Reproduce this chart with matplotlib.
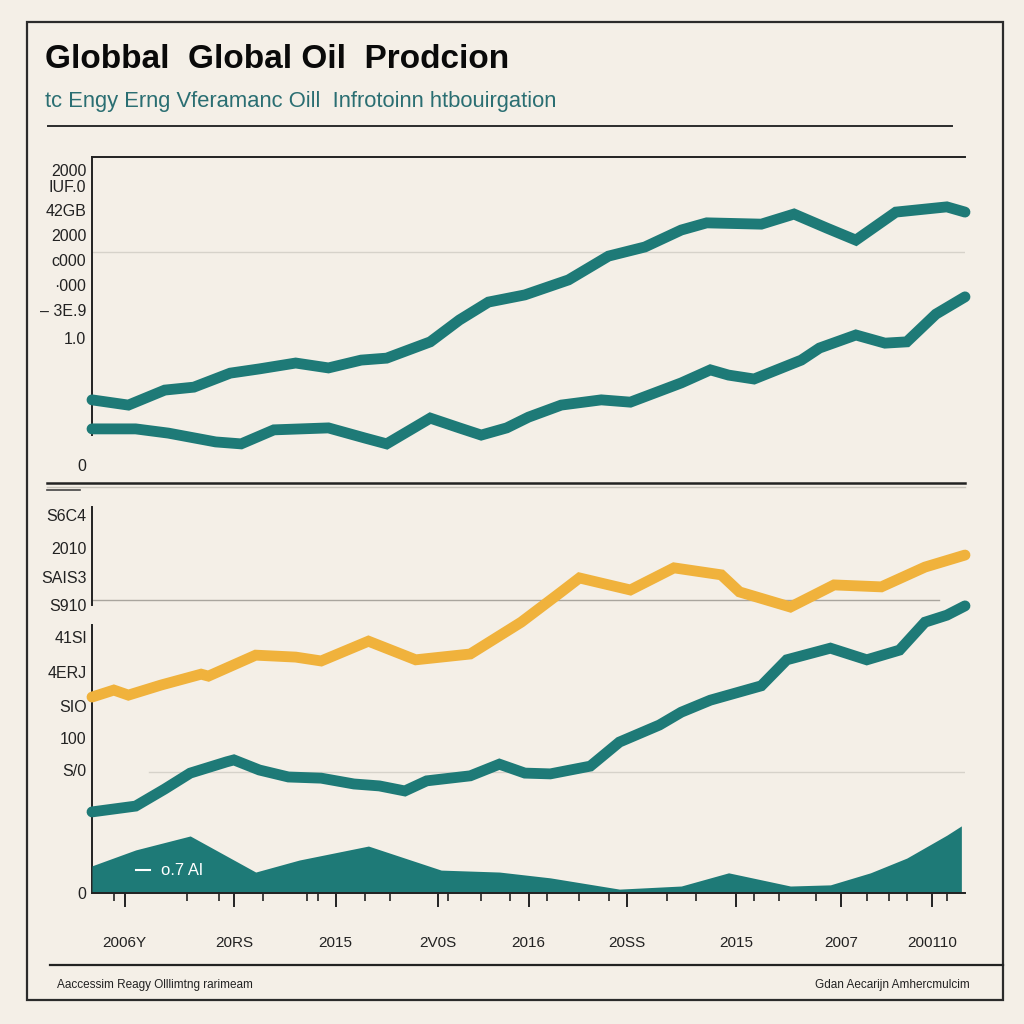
import matplotlib.pyplot as plt
from matplotlib.lines import Line2D
from matplotlib.patches import Rectangle

plt.rcParams['font.family'] = ['Liberation Sans', 'DejaVu Sans']

BG = "#f4efe7"
TEAL = "#1e7a77"
GOLD = "#f0b23c"

# ---- top panel data ----
top_hi_x = [2000.0, 2001.0, 2002.0, 2002.8, 2003.8, 2004.6, 2005.6, 2006.5, 2007.4, 2008.1,
            2009.3, 2010.1, 2010.9, 2011.9, 2013.1, 2014.2, 2015.2, 2016.2, 2016.9, 2018.4,
            2019.3, 2020.2, 2021.0, 2022.1, 2023.5, 2024.0]
top_hi_y = [25.5, 23.9, 28.5, 29.4, 33.7, 35.0, 36.8, 35.3, 37.7, 38.3,
            43.3, 50.0, 55.5, 57.7, 62.3, 69.6, 72.4, 77.6, 79.8, 79.4,
            82.5, 78.2, 74.5, 83.1, 84.7, 83.1]
top_lo_x = [2000.0, 2001.2, 2002.1, 2003.4, 2004.1, 2005.0, 2006.5, 2007.5, 2008.1, 2009.3,
            2010.1, 2010.7, 2011.4, 2012.0, 2012.9, 2014.0, 2014.8, 2016.2, 2017.0, 2017.5,
            2018.2, 2019.5, 2020.0, 2021.0, 2021.8, 2022.4, 2023.2, 2024.0]
top_lo_y = [16.6, 16.6, 15.3, 12.6, 12.0, 16.3, 16.9, 13.8, 12.0, 19.9,
            16.9, 14.7, 16.9, 20.2, 23.9, 25.5, 24.8, 30.7, 34.7, 33.1,
            31.9, 37.7, 41.4, 45.4, 42.9, 43.3, 51.8, 57.1]
top_ticks = [96.0, 91.1, 83.7, 76.1, 68.4, 60.7, 53.1, 44.5, 5.5]
top_labels = ["2000", "IUF.0", "42GB", "2000", "c000", "\u00b7000", "\u2013 3E.9", "1.0", "0"]

# ---- bottom panel data ----
gold_x = [2000.0, 2000.6, 2001.0, 2001.9, 2003.0, 2003.2, 2004.5, 2005.6, 2006.3, 2007.6,
          2008.9, 2010.4, 2011.8, 2012.9, 2013.4, 2014.8, 2016.0, 2017.3, 2017.8, 2019.2,
          2020.4, 2021.7, 2022.9, 2024.0]
gold_y = [50.5, 52.3, 51.0, 53.6, 56.4, 55.9, 61.3, 60.8, 59.8, 64.9,
          60.1, 61.6, 69.8, 77.6, 81.2, 78.1, 83.8, 82.0, 77.6, 73.7,
          79.4, 78.9, 84.0, 87.1]
teal_x = [2000.0, 2001.2, 2002.0, 2002.7, 2003.7, 2003.9, 2004.6, 2005.4, 2006.3, 2007.2,
          2007.9, 2008.6, 2009.2, 2010.4, 2011.2, 2011.9, 2012.6, 2013.7, 2014.5, 2015.6,
          2016.2, 2017.0, 2018.4, 2019.1, 2020.3, 2021.3, 2022.2, 2022.9, 2023.5, 2024.0]
teal_y = [20.9, 22.4, 26.8, 30.9, 33.8, 34.3, 31.7, 29.9, 29.6, 28.1,
          27.6, 26.3, 28.9, 30.2, 33.2, 30.9, 30.7, 32.7, 38.9, 43.3,
          46.6, 49.7, 53.4, 60.1, 63.1, 60.1, 62.6, 69.8, 71.6, 74.0]
area_x = [2000.0, 2001.2, 2002.7, 2004.5, 2005.7, 2007.6, 2009.6, 2011.2, 2012.6, 2014.5,
          2016.2, 2017.5, 2019.2, 2020.3, 2021.4, 2022.4, 2023.5, 2023.9]
area_y = [7.0, 11.1, 14.7, 5.4, 8.5, 12.1, 5.9, 5.4, 3.9, 1.0,
          1.8, 5.2, 1.8, 2.1, 5.2, 9.0, 14.9, 17.3]
bot_ticks = [97.4, 88.9, 81.4, 74.2, 66.0, 57.0, 48.2, 39.9, 31.7, 0]
bot_labels = ["S6C4", "2010", "SAIS3", "S910", "41Sl", "4ERJ", "SIO", "100", "S/0", "0"]
year_ticks = [2000.9, 2003.9, 2006.7, 2009.5, 2012.0, 2014.7, 2017.7, 2020.6, 2023.1]
year_labels = ["2006Y", "20RS", "2015", "2V0S", "2016", "20SS", "2015", "2007", "200110"]
minor_years = [2000.6, 2002.6, 2003.5, 2004.7, 2005.9, 2006.2, 2007.5, 2008.2, 2009.8, 2010.7,
               2011.5, 2012.5, 2013.4, 2014.2, 2015.8, 2016.6, 2018.2, 2018.9, 2019.9, 2021.3,
               2021.9, 2022.4, 2023.5]

fig = plt.figure(figsize=(10.24, 10.24), dpi=100, facecolor=BG)

# frame and rules
fig.add_artist(Rectangle((27 / 1024, 1 - 1000 / 1024), 976 / 1024, 978 / 1024,
                         transform=fig.transFigure, fill=False, ec="#2b2b2b", lw=1.6))
fig.add_artist(Line2D([48 / 1024, 952 / 1024], [1 - 126 / 1024] * 2, color="#2b2b2b", lw=1.4))
fig.add_artist(Line2D([47 / 1024, 965 / 1024], [1 - 483 / 1024] * 2, color="#222222", lw=1.8))
fig.add_artist(Line2D([47 / 1024, 965 / 1024], [1 - 486.5 / 1024] * 2, color="#c8c4bc", lw=1.0))
fig.add_artist(Line2D([47 / 1024, 80 / 1024], [1 - 490 / 1024] * 2, color="#444444", lw=1.2))
fig.add_artist(Line2D([50 / 1024, 1003 / 1024], [1 - 965 / 1024] * 2, color="#222222", lw=1.6))

fig.text(45 / 1024, 1 - 60 / 1024, "Globbal  Global Oil  Prodcion", fontsize=24,
         fontweight="bold", color="#0a0a0a", va="center", ha="left")
fig.text(45 / 1024, 1 - 101 / 1024, "tc Engy Erng Vferamanc Oill  Infrotoinn htbouirgation",
         fontsize=15.8, color="#2a6e72", va="center", ha="left")
fig.text(57 / 1024, 1 - 985 / 1024, "Aaccessim Reagy Olllimtng rarimeam", fontsize=8.5,
         color="#222222", va="center", ha="left")
fig.text(970 / 1024, 1 - 985 / 1024, "Gdan Aecarijn Amhercmulcim", fontsize=8.5,
         color="#222222", va="center", ha="right")

# ---- top panel ----
ax1 = fig.add_axes([92 / 1024, 1 - 483 / 1024, 873 / 1024, 326 / 1024])
ax1.set_facecolor(BG)
ax1.set_xlim(2000, 2024)
ax1.set_ylim(0, 100)
for s in ["left", "right", "bottom"]:
    ax1.spines[s].set_visible(False)
ax1.spines["top"].set_color("#222222")
ax1.spines["top"].set_linewidth(1.4)
ax1.axvline(2000, ymin=0.147, ymax=1, color="#222222", lw=1.4, clip_on=False)
ax1.axhline(70.9, color="#d6d2ca", lw=1.0, zorder=1)
ax1.plot(top_hi_x, top_hi_y, color=TEAL, lw=7.8, solid_capstyle="round",
         solid_joinstyle="miter", zorder=3, clip_on=False)
ax1.plot(top_lo_x, top_lo_y, color=TEAL, lw=7.8, solid_capstyle="round",
         solid_joinstyle="miter", zorder=3, clip_on=False)
ax1.set_xticks([])
ax1.set_yticks(top_ticks)
ax1.set_yticklabels(top_labels, fontsize=11.5, color="#222222")
ax1.tick_params(axis="y", length=0, pad=4)

# ---- bottom panel ----
ax2 = fig.add_axes([92 / 1024, 1 - 893 / 1024, 873 / 1024, 388 / 1024])
ax2.set_facecolor(BG)
ax2.set_xlim(2000, 2024)
ax2.set_ylim(0, 100)
for s in ["left", "right", "top"]:
    ax2.spines[s].set_visible(False)
ax2.spines["bottom"].set_color("#222222")
ax2.spines["bottom"].set_linewidth(1.4)
ax2.axvline(2000, ymin=0.742, ymax=0.995, color="#222222", lw=1.4, clip_on=False)
ax2.axvline(2000, ymin=0, ymax=0.691, color="#222222", lw=1.4, clip_on=False)
ax2.axhline(75.5, xmin=0, xmax=0.97, color="#a9a59e", lw=1.0, zorder=1)
ax2.axhline(31.2, xmin=0.065, xmax=1, color="#d6d2ca", lw=1.0, zorder=1)
ax2.fill_between(area_x, area_y, 0, color=TEAL, lw=0, zorder=2)
ax2.plot(gold_x, gold_y, color=GOLD, lw=7.8, solid_capstyle="round",
         solid_joinstyle="miter", zorder=3, clip_on=False)
ax2.plot(teal_x, teal_y, color=TEAL, lw=7.8, solid_capstyle="round",
         solid_joinstyle="miter", zorder=3, clip_on=False)
ax2.plot([2001.2, 2001.6], [5.9, 5.9], color="white", lw=1.5, zorder=4)
ax2.text(2001.9, 5.9, "o.7 Al", color="white", fontsize=12, va="center", ha="left", zorder=4)
ax2.set_yticks(bot_ticks)
ax2.set_yticklabels(bot_labels, fontsize=11.5, color="#222222")
ax2.tick_params(axis="y", length=0, pad=4)
ax2.set_xticks(year_ticks)
ax2.set_xticklabels(year_labels, fontsize=11, color="#222222")
ax2.set_xticks(minor_years, minor=True)
ax2.tick_params(axis="x", which="major", length=10, width=1.4, color="#222222", pad=21)
ax2.tick_params(axis="x", which="minor", length=6, width=1.2, color="#222222")

fig.savefig("out.png", dpi=100, facecolor=BG)
